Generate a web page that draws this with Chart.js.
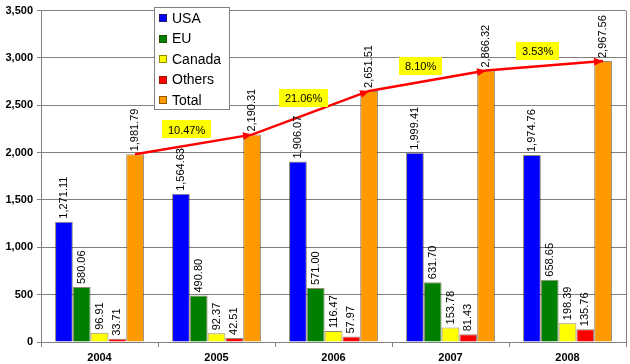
<!DOCTYPE html>
<html>
<head>
<meta charset="utf-8">
<script src="https://cdn.jsdelivr.net/npm/chart.js@4"></script>
<style>
  html, body { margin: 0; padding: 0; background: #fff; }
  #wrap { width: 630px; height: 364px; position: relative; }
</style>
</head>
<body>
<div id="wrap"><canvas id="bar-chart"></canvas></div>
<script>
const years = ['2004', '2005', '2006', '2007', '2008'];
const usa = [1271.11, 1564.63, 1906.07, 1999.41, 1974.76];
const eu = [580.06, 490.80, 571.00, 631.70, 658.65];
const canada = [96.91, 92.37, 116.47, 153.78, 198.39];
const others = [33.71, 42.51, 57.97, 81.43, 135.76];
const total = [1981.79, 2190.31, 2651.51, 2866.32, 2967.56];
const growth = ['10.47%', '21.06%', '8.10%', '3.53%'];

const barBorder = 'rgba(60,40,0,0.55)';
const fmt = v => v.toLocaleString('en-US', { minimumFractionDigits: 2, maximumFractionDigits: 2 });

// ------------------------------------------------------
// @Plugins
// ------------------------------------------------------

const valueLabels = {
  id: 'valueLabels',
  afterDatasetsDraw(chart) {
    const ctx = chart.ctx;
    ctx.save();
    ctx.font = '11px Arial, "Liberation Sans"';
    ctx.fillStyle = '#000';
    ctx.textAlign = 'left';
    ctx.textBaseline = 'middle';
    chart.data.datasets.forEach((ds, i) => {
      if (ds.type === 'line') return;
      chart.getDatasetMeta(i).data.forEach((bar, j) => {
        ctx.save();
        ctx.translate(bar.x, bar.y - 3);
        ctx.rotate(-Math.PI / 2);
        ctx.fillText(fmt(ds.data[j].y), 0, 0);
        ctx.restore();
      });
    });
    ctx.restore();
  }
};

const arrowsAndGrowth = {
  id: 'arrowsAndGrowth',
  afterDatasetsDraw(chart) {
    const ctx = chart.ctx;
    const idx = chart.data.datasets.findIndex(d => d.type === 'line');
    const pts = chart.getDatasetMeta(idx).data;
    ctx.save();
    ctx.fillStyle = '#ff0000';
    for (let i = 1; i < pts.length; i++) {
      const a = pts[i - 1], b = pts[i];
      const ang = Math.atan2(b.y - a.y, b.x - a.x);
      ctx.save();
      ctx.translate(b.x, b.y);
      ctx.rotate(ang);
      ctx.beginPath();
      ctx.moveTo(0, 0);
      ctx.lineTo(-9, -4);
      ctx.lineTo(-9, 4);
      ctx.closePath();
      ctx.fill();
      ctx.restore();
    }
    ctx.font = '11px Arial, "Liberation Sans"';
    ctx.textAlign = 'center';
    ctx.textBaseline = 'middle';
    growth.forEach((g, i) => {
      const a = pts[i], b = pts[i + 1];
      const cx = (a.x + b.x) / 2 - 7;
      const cy = (a.y + b.y) / 2 - 15;
      const w = ctx.measureText(g).width + 12;
      ctx.fillStyle = '#ffff00';
      ctx.fillRect(Math.round(cx - w / 2), Math.round(cy - 9), Math.round(w), 18);
      ctx.fillStyle = '#000';
      ctx.fillText(g, cx, cy + 1);
    });
    ctx.restore();
  }
};

const frameAndLegend = {
  id: 'frameAndLegend',
  afterDraw(chart) {
    const ctx = chart.ctx;
    const area = chart.chartArea;
    ctx.save();
    ctx.strokeStyle = '#808080';
    ctx.lineWidth = 1;
    ctx.beginPath();
    ctx.moveTo(Math.round(area.right) + 0.5, Math.round(area.top));
    ctx.lineTo(Math.round(area.right) + 0.5, Math.round(area.bottom));
    ctx.stroke();

    // legend box
    const bx = 154, by = 7, bw = 75, bh = 102;
    ctx.fillStyle = '#fff';
    ctx.fillRect(bx, by, bw, bh);
    ctx.strokeRect(bx + 0.5, by + 0.5, bw, bh);
    ctx.font = '14px Arial, "Liberation Sans"';
    ctx.textAlign = 'left';
    ctx.textBaseline = 'middle';
    chart.data.datasets.forEach((ds, i) => {
      if (ds.type === 'line') return;
      const y = by + 11 + i * 20.5;
      ctx.fillStyle = ds.backgroundColor;
      ctx.fillRect(bx + 5, Math.round(y - 4), 8, 8);
      ctx.strokeStyle = barBorder;
      ctx.strokeRect(bx + 5.5, Math.round(y - 4) + 0.5, 7, 7);
      ctx.fillStyle = '#000';
      ctx.fillText(ds.label, bx + 18, y + 1);
    });
    ctx.restore();
  }
};

// ------------------------------------------------------
// @Bar Chart
// ------------------------------------------------------

const barChartBox = document.getElementById('bar-chart');

function barSet(label, color, values) {
  return {
    label: label,
    data: values.map((v, i) => ({ x: i, y: v })),
    backgroundColor: color,
    borderColor: barBorder,
    borderWidth: 1,
    categoryPercentage: 0.76,
    barPercentage: 1.0,
    order: 1
  };
}

new Chart(barChartBox.getContext('2d'), {
  type: 'bar',
  data: {
    datasets: [
      barSet('USA', '#0000ff', usa),
      barSet('EU', '#008000', eu),
      barSet('Canada', '#ffff00', canada),
      barSet('Others', '#ff0000', others),
      barSet('Total', '#ff9900', total),
      {
        type: 'line',
        label: 'Growth',
        // line runs along the tops of the Total bars (last bar in each group)
        data: total.map((v, i) => ({ x: i + 0.304, y: v })),
        borderColor: '#ff0000',
        borderWidth: 2.5,
        pointRadius: 0,
        tension: 0,
        order: 0
      }
    ]
  },
  options: {
    responsive: true,
    maintainAspectRatio: false,
    animation: false,
    layout: { padding: { top: 9, right: 4, left: 0, bottom: 0 } },
    plugins: {
      legend: { display: false },
      tooltip: { enabled: false }
    },
    scales: {
      x: {
        type: 'linear',
        min: -0.5,
        max: 4.5,
        offset: false,
        afterBuildTicks(scale) { scale.ticks = years.map((y, i) => ({ value: i })); },
        grid: { drawOnChartArea: false, drawTicks: true, tickLength: 5, offset: true, color: '#808080' },
        border: { color: '#808080' },
        ticks: {
          color: '#000',
          font: { family: 'Arial, "Liberation Sans"', size: 11, weight: 'bold' },
          padding: 4,
          maxRotation: 0,
          callback: v => years[v]
        },
        afterFit(scale) { scale.height = 22; }
      },
      y: {
        min: 0,
        max: 3500,
        ticks: {
          stepSize: 500,
          color: '#000',
          padding: 4,
          font: { family: 'Arial, "Liberation Sans"', size: 11, weight: 'bold' },
          callback: v => v.toLocaleString('en-US')
        },
        grid: { color: '#808080', tickLength: 4 },
        border: { color: '#808080' },
        afterFit(scale) { scale.width = 41; }
      }
    }
  },
  plugins: [valueLabels, arrowsAndGrowth, frameAndLegend]
});
</script>
</body>
</html>
